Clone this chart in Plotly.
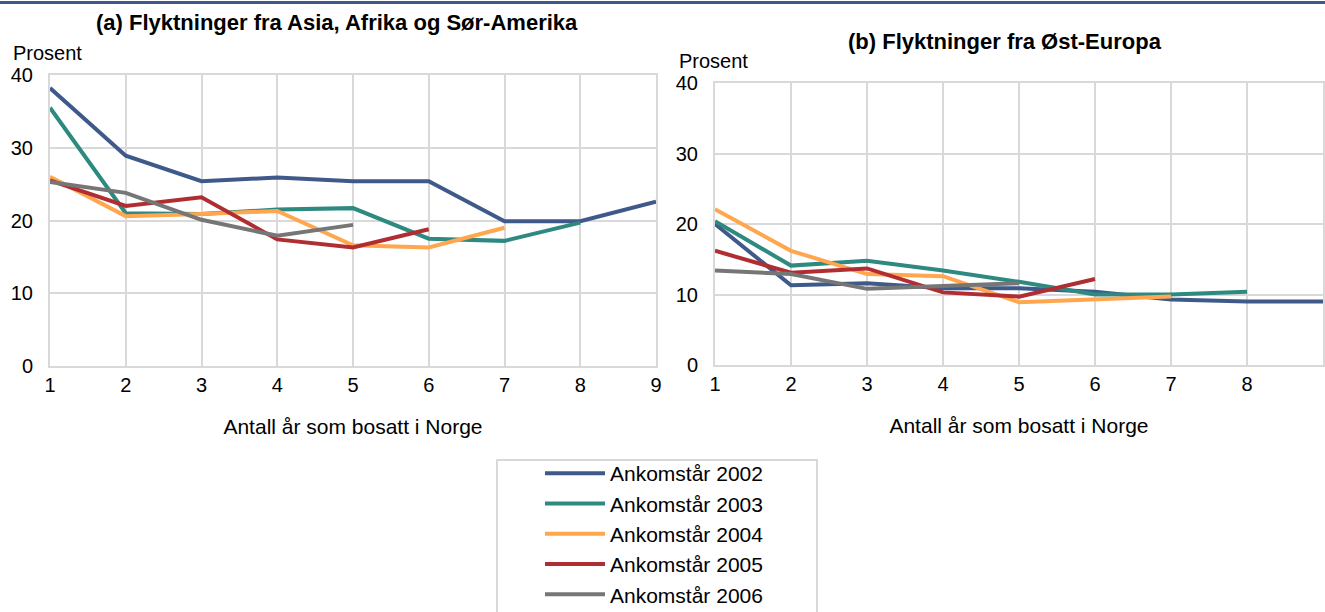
import plotly.graph_objects as go

W, H = 1325, 612

# x-axis: number of years settled in Norway
years_settled = [1, 2, 3, 4, 5, 6, 7, 8, 9]

series_names = [
    "Ankomstår 2002",
    "Ankomstår 2003",
    "Ankomstår 2004",
    "Ankomstår 2005",
    "Ankomstår 2006",
]

# (a) Asia, Africa and South America
asia_2002 = [38.2, 28.9, 25.4, 25.9, 25.4, 25.4, 19.9, 19.9, 22.6]
asia_2003 = [35.5, 21.0, 20.9, 21.5, 21.7, 17.5, 17.2, 19.7]
asia_2004 = [26.0, 20.6, 20.9, 21.3, 16.6, 16.3, 19.0]
asia_2005 = [25.5, 22.0, 23.2, 17.4, 16.3, 18.8]
asia_2006 = [25.3, 23.8, 20.1, 17.9, 19.4]

# (b) Eastern Europe
east_2002 = [20.0, 11.3, 11.6, 10.9, 10.9, 10.4, 9.3, 9.0, 9.0]
east_2003 = [20.4, 14.1, 14.8, 13.4, 11.8, 10.0, 10.0, 10.4]
east_2004 = [22.1, 16.2, 12.9, 12.6, 8.9, 9.3, 9.7]
east_2005 = [16.2, 13.1, 13.7, 10.3, 9.7, 12.2]
east_2006 = [13.4, 12.9, 10.8, 11.2, 11.6]

colors = ["#3F5A8A", "#2E8A80", "#FFA64F", "#B02E32", "#767676"]

FONT = "Arial, Liberation Sans, sans-serif"
GRID = "#D9D9D9"


def px_x(p):
    return p / W


def px_y(p):
    return 1 - p / H


fig = go.Figure()

panels = [
    ("x", "y", [asia_2002, asia_2003, asia_2004, asia_2005, asia_2006], True),
    ("x2", "y2", [east_2002, east_2003, east_2004, east_2005, east_2006], False),
]
for xa, ya, data, show in panels:
    for name, vals, color in zip(series_names, data, colors):
        fig.add_trace(
            go.Scatter(
                x=years_settled[: len(vals)],
                y=vals,
                mode="lines",
                name=name,
                legendgroup=name,
                showlegend=show,
                line=dict(color=color, width=4),
                xaxis=xa,
                yaxis=ya,
            )
        )

axis_common = dict(
    showgrid=True,
    gridcolor=GRID,
    gridwidth=2,
    showline=True,
    linecolor=GRID,
    linewidth=2,
    mirror=True,
    zeroline=False,
    ticks="",
    tickfont=dict(size=20, color="#000000", family=FONT),
    automargin=False,
    fixedrange=True,
)

xaxis_common = dict(
    axis_common,
    range=[1, 9],
    tickmode="array",
    tickvals=years_settled,
    ticklabelstandoff=0,
    title=dict(
        text="Antall år som bosatt i Norge",
        font=dict(size=21, color="#000000", family=FONT),
        standoff=24,
    ),
)
yaxis_common = dict(
    axis_common,
    range=[0, 40],
    tickmode="array",
    tickvals=[0, 10, 20, 30, 40],
    ticklabelstandoff=11,
)

fig.update_layout(
    width=W,
    height=H,
    margin=dict(l=0, r=0, t=0, b=0, autoexpand=False),
    paper_bgcolor="white",
    plot_bgcolor="white",
    font=dict(family=FONT, color="#000000"),
    xaxis=dict(xaxis_common, domain=[px_x(50), px_x(656)], anchor="y"),
    yaxis=dict(yaxis_common, domain=[px_y(366), px_y(75)], anchor="x"),
    xaxis2=dict(xaxis_common, domain=[px_x(715), px_x(1323)], anchor="y2"),
    yaxis2=dict(yaxis_common, domain=[px_y(365), px_y(83)], anchor="x2"),
    legend=dict(
        x=px_x(540),
        y=px_y(453),
        xanchor="left",
        yanchor="top",
        font=dict(size=21, color="#000000", family=FONT),
        bgcolor="rgba(0,0,0,0)",
        borderwidth=0,
        tracegroupgap=0,
        itemwidth=60,
    ),
    shapes=[
        dict(
            type="line", xref="paper", yref="paper",
            x0=0, x1=1, y0=px_y(2.5), y1=px_y(2.5),
            line=dict(color="#3F5A8A", width=3),
        ),
        dict(
            type="rect", xref="paper", yref="paper",
            x0=px_x(497), x1=px_x(817), y0=-0.05, y1=px_y(460),
            line=dict(color=GRID, width=2),
        ),
    ],
    annotations=[
        dict(
            text="<b>(a) Flyktninger fra Asia, Afrika og Sør-Amerika</b>",
            x=px_x(337), y=px_y(23), xref="paper", yref="paper",
            xanchor="center", yanchor="middle", showarrow=False,
            font=dict(size=22, family=FONT),
        ),
        dict(
            text="<b>(b) Flyktninger fra Øst-Europa</b>",
            x=px_x(1005), y=px_y(42), xref="paper", yref="paper",
            xanchor="center", yanchor="middle", showarrow=False,
            font=dict(size=22, family=FONT),
        ),
        dict(
            text="Prosent",
            x=px_x(11), y=px_y(53), xref="paper", yref="paper",
            xanchor="left", yanchor="middle", showarrow=False,
            font=dict(size=20, family=FONT),
        ),
        dict(
            text="Prosent",
            x=px_x(677), y=px_y(61), xref="paper", yref="paper",
            xanchor="left", yanchor="middle", showarrow=False,
            font=dict(size=20, family=FONT),
        ),
    ],
)

# the page body has a default 8px margin; drop it so the figure fills the window
fig.write_html(
    "out.html",
    config={"displayModeBar": False},
    post_script="document.body.style.margin='0';",
)
